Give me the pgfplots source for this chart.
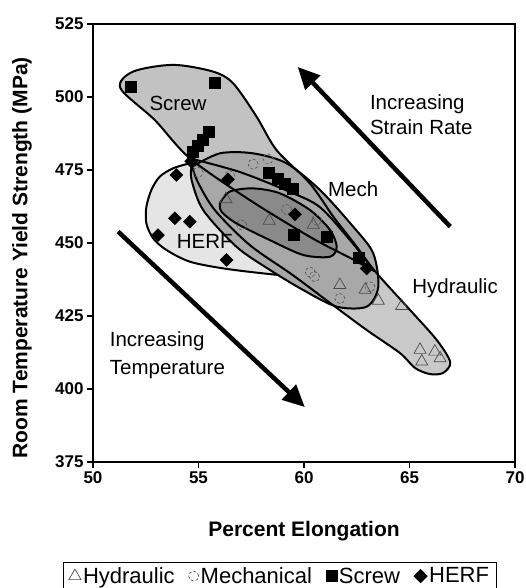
\documentclass[border=0pt]{standalone}
\usepackage{fontspec}
\setmainfont{Liberation Sans}
\usepackage{pgfplots}
\usepackage{pgfplotstable}
\pgfplotsset{compat=1.18}
\usetikzlibrary{arrows.meta}

\pgfplotstableread{
x y
54.59 477.3
53.80 475.6
53.16 472.7
52.77 468.2
52.53 462.4
52.53 456.7
52.85 451.6
53.48 447.6
54.59 443.6
56.17 441.3
58.06 439.6
59.80 438.4
60.75 438.7
60.60 442.0
58.86 452.7
56.96 463.0
55.30 473.3
54.59 477.3
}\herfenv

\pgfplotstableread{
x y
63.32 440.4
62.50 448.7
61.39 459.0
60.28 470.4
58.70 481.8
57.75 493.3
56.64 504.7
55.69 508.7
53.80 511.0
51.90 508.7
51.30 503.0
52.93 492.1
54.59 479.0
57.43 464.7
60.28 452.1
62.18 444.9
63.32 440.4
}\screwenv

\pgfplotstableread{
x y
54.59 479.0
56.96 474.3
59.33 467.5
60.75 462.3
62.18 451.0
63.44 439.7
65.02 427.1
66.29 416.8
66.93 409.2
66.59 405.5
65.97 405.1
65.26 407.2
64.55 412.3
62.97 420.2
61.23 429.5
59.47 439.0
57.43 449.3
55.77 461.3
54.92 471.6
54.59 479.0
}\hydenv

\pgfplotstableread{
x y
54.67 476.0
56.01 480.7
57.59 480.7
59.17 477.3
60.75 468.2
62.33 455.6
63.28 446.5
63.52 435.0
62.97 428.2
61.55 428.2
59.96 433.9
58.38 440.8
56.80 448.7
55.22 461.3
54.67 471.6
54.67 476.0
}\mechenv

\pgfplotstableread{
x y
56.01 463.6
56.48 467.6
57.59 468.7
58.86 467.0
60.28 461.3
61.23 454.5
61.55 448.7
61.23 445.3
59.96 445.9
58.38 451.0
56.80 456.7
56.09 460.7
56.01 463.6
}\innerenv

\pgfplotstableread{
x y
56.30 465.0
58.35 457.6
60.44 456.2
61.70 435.6
62.90 434.0
63.52 430.2
64.63 428.4
65.50 413.4
65.58 409.4
66.20 412.8
66.45 410.5
}\hyd

\pgfplotstableread{
x y
54.98 474.2
56.48 473.0
57.59 477.0
58.30 478.8
57.04 456.2
59.17 461.5
60.60 457.9
60.30 440.0
60.50 438.5
61.70 431.0
63.13 435.0
}\mech

\pgfplotstableread{
x y
51.80 503.6
55.77 504.8
55.46 488.1
55.22 485.5
54.98 483.2
54.74 481.3
58.35 474.2
58.75 472.0
59.10 470.2
59.45 468.6
59.52 453.0
61.07 452.3
62.57 444.8
}\screw

\pgfplotstableread{
x y
54.65 478.0
53.95 473.3
56.40 471.8
53.88 458.5
54.59 457.3
53.08 452.7
56.33 444.2
59.57 459.8
62.97 441.3
}\herf

\begin{document}
\begin{tikzpicture}
\path[use as bounding box] (0,0) rectangle (526pt,588pt);
\begin{axis}[
  at={(93pt,126pt)}, anchor=south west,
  scale only axis, width=422pt, height=438pt,
  xmin=50, xmax=70, ymin=375, ymax=525,
  xtick={50,55,60,65,70}, ytick={375,400,425,450,475,500,525},
  tick align=outside, tick pos=left, major tick length=6pt,
  axis line style={line width=1.6pt},
  every tick/.style={black, line width=1.2pt},
  tick label style={font=\bfseries\fontsize{17}{20}\selectfont},
  /pgf/number format/assume math mode=true,
  xlabel={Percent Elongation},
  ylabel={Room Temperature Yield Strength (MPa)},
  every axis x label/.style={at={(axis description cs:0.5,-0.1575)},anchor=center,
    font=\bfseries\fontsize{21}{24}\selectfont},
  every axis y label/.style={at={(axis description cs:-0.168,0.466)},anchor=center,rotate=90,
    font=\bfseries\fontsize{21}{24}\selectfont},
  legend columns=4,
  legend style={at={(0.443,-0.2283)}, anchor=north, draw=black, line width=0.8pt,
    font=\fontsize{22}{25}\selectfont,
    /tikz/every even column/.append style={column sep=12pt},
    inner xsep=5pt, inner ysep=3pt},
  legend image code/.code={\draw[mark repeat=2,mark phase=2,#1] plot coordinates {(0pt,0pt) (7pt,0pt) (14pt,0pt)};},
]
% HERF envelope (bottom layer)
\addplot[forget plot, smooth, fill=black!10, draw=black, line width=2pt] table {\herfenv};
% fills
\addplot[forget plot, smooth, fill=black!24, draw=none] table {\screwenv};
\addplot[forget plot, smooth, fill=black!21, draw=none] table {\hydenv};
\addplot[forget plot, smooth, fill=black!34, draw=none] table {\mechenv};
\addplot[forget plot, smooth, fill=black!46, draw=none] table {\innerenv};
% outlines
\addplot[forget plot, smooth, draw=black, line width=2pt] table {\screwenv};
\addplot[forget plot, smooth, draw=black, line width=2pt] table {\hydenv};
\addplot[forget plot, smooth, draw=black, line width=2pt] table {\mechenv};
\addplot[forget plot, smooth, draw=black, line width=2pt] table {\innerenv};
% arrows
\addplot[forget plot, line width=4.5pt, -{Triangle[length=22pt,width=20pt]}] coordinates {(66.93,455.6) (59.70,510.3)};
\addplot[forget plot, line width=4.5pt, -{Triangle[length=22pt,width=20pt]}] coordinates {(51.19,453.9) (60.04,393.8)};
% data
\addplot[only marks, mark=triangle, mark size=7pt, mark options={draw=black!70, line width=0.7pt, fill=none}] table {\hyd};
\addlegendentry{Hydraulic}
\addplot[only marks, mark=o, mark size=5pt, mark options={draw=black!65, line width=0.7pt, densely dashed}] table {\mech};
\addlegendentry{Mechanical}
\addplot[only marks, mark=square*, mark size=5.5pt, mark options={draw=black, fill=black}] table {\screw};
\addlegendentry{Screw}
\addplot[only marks, mark=square*, mark size=4.6pt, mark options={draw=black, fill=black, rotate=45}] table {\herf};
\addlegendentry{HERF}
% labels
\node[font=\fontsize{20.5}{24}\selectfont, anchor=base] at (axis cs:54.03,495.5) {Screw};
\node[font=\fontsize{20.5}{24}\selectfont, anchor=base] at (axis cs:62.33,465.9) {Mech};
\node[font=\fontsize{20.5}{24}\selectfont, anchor=base] at (axis cs:67.16,432.8) {Hydraulic};
\node[font=\fontsize{20.5}{24}\selectfont, anchor=base] at (axis cs:55.30,448.2) {HERF};
\node[font=\fontsize{20.5}{24}\selectfont, anchor=base west, inner sep=0pt] at (axis cs:63.12,495.8) {Increasing};
\node[font=\fontsize{20.5}{24}\selectfont, anchor=base west, inner sep=0pt] at (axis cs:63.12,487.0) {Strain Rate};
\node[font=\fontsize{20.5}{24}\selectfont, anchor=base west, inner sep=0pt] at (axis cs:50.79,414.5) {Increasing};
\node[font=\fontsize{20.5}{24}\selectfont, anchor=base west, inner sep=0pt] at (axis cs:50.79,405.1) {Temperature};
\end{axis}
\end{tikzpicture}
\end{document}
